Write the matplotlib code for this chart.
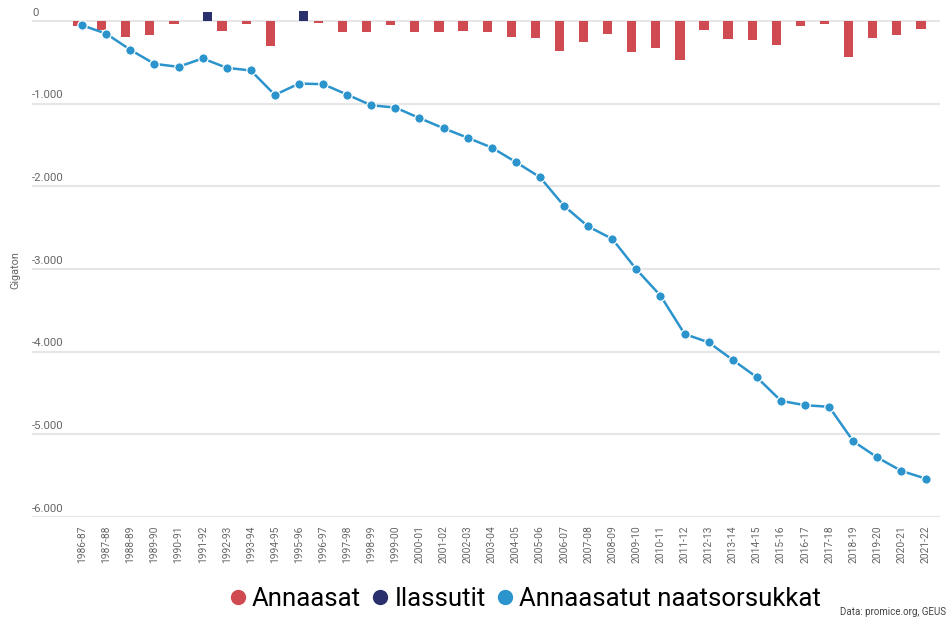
import numpy as np
import matplotlib
matplotlib.use("Agg")
import matplotlib.pyplot as plt
from matplotlib.lines import Line2D
import matplotlib.transforms as mtransforms

seasons = ["1986-87", "1987-88", "1988-89", "1989-90", "1990-91", "1991-92",
           "1992-93", "1993-94", "1994-95", "1995-96", "1996-97", "1997-98",
           "1998-99", "1999-00", "2000-01", "2001-02", "2002-03", "2003-04",
           "2004-05", "2005-06", "2006-07", "2007-08", "2008-09", "2009-10",
           "2010-11", "2011-12", "2012-13", "2013-14", "2014-15", "2015-16",
           "2016-17", "2017-18", "2018-19", "2019-20", "2020-21", "2021-22"]

# Annaasat (loss), Gt per season
annaasat = [-60, -109, -198, -174, -40, 0, -121, -40, -303, 0, -20, -133,
            -133, -53, -133, -133, -117, -133, -190, -202, -360, -258, -154,
            -372, -327, -473, -109, -214, -226, -291, -65, -32, -432, -202,
            -174, -101]

# Ilassutit (gain), Gt per season
ilassutit = [0, 0, 0, 0, 0, 105, 0, 0, 0, 125, 0, 0, 0, 0, 0, 0, 0, 0, 0, 0,
             0, 0, 0, 0, 0, 0, 0, 0, 0, 0, 0, 0, 0, 0, 0, 0]

# Annaasatut naatsorsukkat (cumulative)
cumulative = [-52, -154, -349, -519, -555, -453, -567, -599, -895, -757,
              -765, -891, -1020, -1048, -1175, -1298, -1413, -1532, -1707,
              -1890, -2238, -2486, -2636, -3005, -3322, -3786, -3888, -4100,
              -4310, -4595, -4648, -4667, -5084, -5280, -5443, -5535]

yticks = [0, -1000, -2000, -3000, -4000, -5000, -6000]

RED = "#cf4b51"
NAVY = "#29306c"
BLUE = "#2b94cc"
GRAY = "#666666"

plt.rcParams["font.family"] = ["Roboto", "DejaVu Sans"]

fig = plt.figure(figsize=(9.49, 6.19), dpi=100)
ax = fig.add_axes([32 / 949, (619 - 517) / 619, 908 / 949, 512 / 619])

x = np.arange(len(seasons))
w = 0.385

ax.bar(x - w / 2, annaasat, width=w, color=RED, zorder=2)
ila = np.array(ilassutit, dtype=float)
ila[ila == 0] = np.nan
ax.bar(x + w / 2, ila, width=w, color=NAVY, zorder=2)
ax.plot(x, cumulative, color=BLUE, lw=1.8, marker="o", ms=6.8,
        mfc=BLUE, mec="white", mew=0.9, zorder=3)

ax.set_xlim(-2.08, 35.6)
ax.set_ylim(-6000, 193)

for v in yticks:
    ax.axhline(v, color="#e6e6e6", lw=1.5, zorder=1)
trans = mtransforms.blended_transform_factory(ax.transAxes, ax.transData)
for v in yticks:
    lab = "0" if v == 0 else f"{v:,}".replace(",", ".")
    ax.text(0.0, v + 40, lab, transform=trans, ha="left", va="bottom",
            fontsize=8.2, color=GRAY)

ax.set_yticks([])
ax.set_xticks(x)
ax.set_xticklabels(seasons, rotation=90, fontsize=7.4, color=GRAY)
ax.tick_params(axis="x", length=0, pad=6)
for s in ax.spines.values():
    s.set_visible(False)

fig.text(15 / 949, (619 - 270) / 619, "Gigaton", rotation=90, ha="center",
         va="center", fontsize=7.8, color=GRAY)

handles = [Line2D([], [], ls="none", marker="o", ms=10, color=c)
           for c in (RED, NAVY, BLUE)]
fig.legend(handles, ["Annaasat", "Ilassutit", "Annaasatut naatsorsukkat"],
           loc="center", bbox_to_anchor=(523 / 949, (619 - 599) / 619),
           ncol=3, frameon=False, handletextpad=0.05, columnspacing=0.25,
           handlelength=1.0, prop={"size": 18.5})

fig.text(946 / 949, 2 / 619, "Data: promice.org, GEUS", ha="right",
         va="bottom", fontsize=7, color="#444444")

fig.savefig("out.png", dpi=100)
